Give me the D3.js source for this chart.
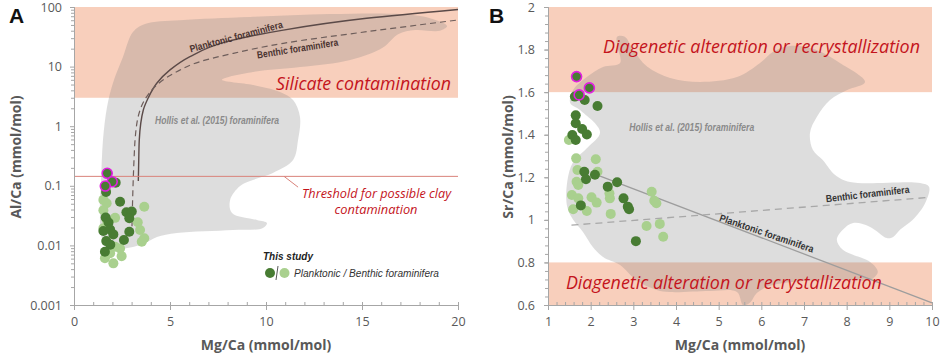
<!DOCTYPE html>
<html>
<head>
<meta charset="utf-8">
<script src="https://cdnjs.cloudflare.com/ajax/libs/d3/7.8.5/d3.min.js"></script>
<style>
  body { margin: 0; background: #fff; }
  text { font-family: "Open Sans", sans-serif; }
</style>
</head>
<body>
<div id="chart"></div>
<script>
// ---- panel A : Al/Ca vs Mg/Ca ----
const aPlanktonic = [[2.17,0.113],[1.67,0.079],[2.40,0.054],[2.73,0.036],[3.01,0.037],[2.88,0.0285],
  [1.65,0.0294],[1.80,0.0242],[1.53,0.0175],[1.88,0.0185],[2.05,0.0153],[1.68,0.0118],[1.89,0.0103],
  [2.88,0.017],[2.60,0.0123],[1.61,0.0078]];
const aFlagged = [[1.73,0.162],[1.99,0.117],[1.63,0.099]];
const aBenthic = [[1.53,0.058],[1.70,0.051],[1.53,0.039],[2.14,0.029],[3.66,0.0446],[3.32,0.0244],
  [3.44,0.0181],[3.66,0.0132],[3.53,0.0115],[1.70,0.0267],[1.61,0.0061],[1.88,0.0074],[2.05,0.0050],
  [2.40,0.0089],[2.48,0.0066],[2.14,0.0095],[1.53,0.0194]];
// mixing curves
const aPlankCurveX = [3.35,3.37,3.40,3.61,3.87,4.31,5.0,6.04,7.95,10.9,15.24,20];
const aPlankCurveY = [0.12,0.25,0.59,1.87,3.0,5.25,8.8,14.7,26.2,41,64.6,91];
const aBenthCurveX = [3.02,3.09,3.15,3.18,3.44,3.78,4.31,5.35,6.56,8.3,10.9,15.24,20];
const aBenthCurveY = [0.021,0.14,0.4,0.59,1.87,3.1,4.9,8.2,12.1,16.7,24.6,38.5,60.5];
// Hollis et al. (2015) envelope
const aHollis = [[3.07,38],[3.70,52],[5.52,60],[9.17,68],[13.33,76],[16.98,76],[18.54,65],[19.43,48],
  [19.06,40],[17.76,41],[16.88,35],[16.09,21],[14.38,12.9],[11.77,9.8],[9.32,8.1],[7.71,6.0],[9.32,4.9],
  [10.73,3.75],[11.41,2.75],[11.77,1.43],[11.67,0.59],[11.41,0.27],[10.36,0.164],[9.32,0.125],[8.65,0.099],
  [8.13,0.058],[8.23,0.035],[9.53,0.0267],[10.05,0.0238],[9.84,0.0196],[8.28,0.0181],[5.36,0.0161],
  [4.32,0.0138],[3.80,0.0114],[3.07,0.0094],[2.24,0.0090],[1.51,0.0123],[1.35,0.039],[1.41,0.125],
  [1.51,0.59],[1.72,2.1],[2.03,5.3],[2.55,14.5]];
const aSilicateBand = [3, 100];
const aClayThreshold = 0.144;
const aTicksX = [0, 5, 10, 15, 20];
const aTicksY = [0.001, 0.01, 0.1, 1, 10, 100];
const aTickLabelsY = ["0.001", "0.01", "0.1", "1", "10", "100"];

// ---- panel B : Sr/Ca vs Mg/Ca ----
const bPlanktonic = [[1.63,1.579],[1.86,1.563],[2.16,1.535],[1.65,1.491],[1.65,1.454],[1.80,1.427],
  [1.91,1.401],[1.57,1.399],[1.65,1.375],[1.85,1.226],[2.10,1.212],[1.89,1.191],[2.40,1.156],[2.62,1.177],
  [2.77,1.101],[1.77,1.068],[2.87,1.062],[2.90,1.050],[3.06,0.900]];
const bFlagged = [[1.67,1.673],[1.97,1.620],[1.73,1.587]];
const bBenthic = [[1.49,1.375],[1.66,1.289],[2.12,1.285],[1.69,1.234],[2.16,1.226],[1.67,1.179],
  [1.71,1.164],[2.44,1.125],[2.45,1.101],[1.56,1.117],[1.71,1.101],[2.02,1.106],[2.14,1.081],[1.59,1.050],
  [1.91,1.042],[2.47,1.028],[3.43,1.132],[3.49,1.090],[3.54,1.078],[3.31,0.971],[3.62,0.981],[3.70,0.921]];
const bPlankLineX = [2.1, 10];
const bPlankLineY = [1.215, 0.61];
const bBenthLineX = [1.55, 9.9];
const bBenthLineY = [0.975, 1.105];
const bHollis = [[2.62,1.86],[2.80,1.86],[2.99,1.80],[3.32,1.72],[3.86,1.667],[4.56,1.648],[5.43,1.671],
  [5.97,1.737],[6.27,1.789],[6.67,1.817],[7.26,1.80],[7.84,1.737],[8.43,1.648],[8.01,1.61],[7.61,1.563],
  [7.30,1.483],[7.14,1.408],[7.21,1.328],[7.44,1.281],[7.73,1.211],[8.08,1.178],[9.72,1.173],[9.93,1.155],
  [9.84,1.079],[9.55,1.0],[9.25,0.953],[9.09,0.92],[8.94,0.915],[8.55,0.967],[8.15,0.985],[7.91,0.953],
  [7.77,0.906],[7.91,0.859],[8.55,0.802],[8.73,0.755],[8.55,0.718],[8.15,0.718],[6.98,0.713],[6.20,0.69],
  [5.90,0.657],[5.73,0.61],[5.57,0.60],[5.43,0.661],[4.80,0.666],[3.86,0.661],[3.55,0.671],[3.09,0.713],
  [2.69,0.788],[2.29,0.826],[2.05,0.873],[1.82,0.943],[1.59,1.0],[1.45,1.061],[1.45,1.178],[1.59,1.272],
  [1.94,1.342],[2.22,1.413],[1.75,1.516],[1.52,1.549],[1.59,1.61],[1.91,1.671],[2.29,1.718],[2.69,1.737],
  [2.62,1.822]];
const bDiageneticBands = [[1.6, 2.0], [0.6, 0.8]];
const bTicksX = [1, 2, 3, 4, 5, 6, 7, 8, 9, 10];
const bTicksY = [0.6, 0.8, 1, 1.2, 1.4, 1.6, 1.8, 2];
const bTickLabelsY = ["0.6", "0.8", "1", "1.2", "1.4", "1.6", "1.8", "2"];

// ---- styling ----
const darkGreen = "#487c33", lightGreen = "#a9d08e", ringColor = "#e31ee3";
const bandColor = "#f8cfbc", blobColor = "#808080", redText = "#c4141c";
const axisColor = "#a6a6a6", labelColor = "#595959";

const svg = d3.select("#chart").append("svg")
  .attr("width", 941).attr("height", 357);

function styleAxis(g) {
  g.select(".domain").attr("stroke", axisColor);
  g.selectAll(".tick line").attr("stroke", axisColor);
  g.selectAll(".tick text").attr("fill", labelColor).style("font-size", "12.5px");
}

function drawPoints(g, pts, x, y, fill, ring) {
  g.append("g").selectAll("circle").data(pts).join("circle")
    .attr("cx", d => x(d[0])).attr("cy", d => y(d[1])).attr("r", 5)
    .attr("fill", fill)
    .attr("stroke", ring || "none").attr("stroke-width", ring ? 1.6 : 0);
}

// ======================= PANEL A =======================
const xA = d3.scaleLinear().domain([0, 20]).range([74, 458]);
const yA = d3.scaleLog().domain([0.001, 100]).range([305, 7]);
const gA = svg.append("g");

gA.append("rect")
  .attr("x", xA(0)).attr("width", xA(20) - xA(0))
  .attr("y", yA(aSilicateBand[1])).attr("height", yA(aSilicateBand[0]) - yA(aSilicateBand[1]))
  .attr("fill", bandColor);

gA.append("path")
  .attr("d", d3.line().x(d => xA(d[0])).y(d => yA(d[1])).curve(d3.curveCatmullRomClosed.alpha(0.5))(aHollis))
  .attr("fill", blobColor).attr("fill-opacity", 0.27);

// mixing curves
const curveLineA = d3.line().x(d => xA(d[0])).y(d => yA(d[1])).curve(d3.curveMonotoneY);
gA.append("path")
  .attr("d", curveLineA(aPlankCurveX.map((v, i) => [v, aPlankCurveY[i]])))
  .attr("fill", "none").attr("stroke", "#5b4a48").attr("stroke-width", 1.4);
gA.append("path")
  .attr("d", curveLineA(aBenthCurveX.map((v, i) => [v, aBenthCurveY[i]])))
  .attr("fill", "none").attr("stroke", "#6e5e5b").attr("stroke-width", 1.2)
  .attr("stroke-dasharray", "6,4");

gA.append("text").text("Planktonic foraminifera")
  .attr("transform", `translate(${xA(8.49)},${yA(27.9)}) rotate(-15)`)
  .attr("text-anchor", "middle").attr("fill", "#4a3330")
  .style("font-family", "Liberation Sans").style("font-weight", "bold").style("font-size", "10px")
  .attr("textLength", 96).attr("lengthAdjust", "spacingAndGlyphs");
gA.append("text").text("Benthic foraminifera")
  .attr("transform", `translate(${xA(11.67)},${yA(17.6)}) rotate(-9)`)
  .attr("text-anchor", "middle").attr("fill", "#4a3330")
  .style("font-family", "Liberation Sans").style("font-weight", "bold").style("font-size", "10px")
  .attr("textLength", 82).attr("lengthAdjust", "spacingAndGlyphs");

gA.append("text").text("Hollis et al. (2015) foraminifera")
  .attr("x", xA(7.45)).attr("y", yA(1.09)).attr("text-anchor", "middle")
  .attr("fill", "#8a8a8a").style("font-family", "Liberation Sans")
  .style("font-weight", "bold").style("font-style", "italic").style("font-size", "10px")
  .attr("textLength", 124).attr("lengthAdjust", "spacingAndGlyphs");

gA.append("text").text("Silicate contamination")
  .attr("x", xA(10.52)).attr("y", yA(4.05))
  .attr("fill", redText).style("font-style", "italic").style("font-size", "18px")
  .attr("textLength", 175).attr("lengthAdjust", "spacingAndGlyphs");

// clay threshold
gA.append("line")
  .attr("x1", xA(0)).attr("x2", xA(20))
  .attr("y1", yA(aClayThreshold)).attr("y2", yA(aClayThreshold))
  .attr("stroke", "#d9827a").attr("stroke-width", 1);
gA.append("line")
  .attr("x1", xA(10.94)).attr("y1", yA(aClayThreshold))
  .attr("x2", xA(11.67)).attr("y2", yA(0.095))
  .attr("stroke", "#d9827a").attr("stroke-width", 1);
gA.append("text").text("Threshold for possible clay")
  .attr("x", xA(11.875)).attr("y", yA(0.0622))
  .attr("fill", redText).style("font-style", "italic").style("font-size", "12.5px")
  .attr("textLength", 149).attr("lengthAdjust", "spacingAndGlyphs");
gA.append("text").text("contamination")
  .attr("x", xA(15.73)).attr("y", yA(0.0335)).attr("text-anchor", "middle")
  .attr("fill", redText).style("font-style", "italic").style("font-size", "12.5px")
  .attr("textLength", 83).attr("lengthAdjust", "spacingAndGlyphs");

// axes A
const minorA = [];
for (let e = -3; e < 2; e++) for (let m = 2; m < 10; m++) minorA.push(m * Math.pow(10, e));
gA.append("g").attr("transform", "translate(74,0)")
  .call(d3.axisLeft(yA).tickValues(minorA).tickSize(3).tickFormat(""))
  .call(styleAxis);
gA.append("g").attr("transform", "translate(74,0)")
  .call(d3.axisLeft(yA).tickValues(aTicksY).tickSize(4).tickPadding(8)
    .tickFormat((d, i) => aTickLabelsY[i]))
  .call(styleAxis);
gA.append("g").attr("transform", "translate(0,305)")
  .call(d3.axisTop(xA).tickValues(d3.range(1, 20)).tickSize(3).tickFormat(""))
  .call(styleAxis);
gA.append("g").attr("transform", "translate(0,305)")
  .call(d3.axisBottom(xA).tickValues(aTicksX).tickSize(5).tickPadding(7))
  .call(styleAxis);

// points A
drawPoints(gA, aBenthic, xA, yA, lightGreen);
drawPoints(gA, aPlanktonic, xA, yA, darkGreen);
drawPoints(gA, aFlagged, xA, yA, darkGreen, ringColor);

// legend A
const lg = gA.append("g");
lg.append("text").text("This study").attr("x", 263).attr("y", 260)
  .attr("fill", "#222").style("font-family", "Liberation Sans")
  .style("font-weight", "bold").style("font-style", "italic").style("font-size", "11.5px")
  .attr("textLength", 50).attr("lengthAdjust", "spacingAndGlyphs");
lg.append("circle").attr("cx", 270).attr("cy", 273).attr("r", 5).attr("fill", darkGreen);
lg.append("circle").attr("cx", 284.5).attr("cy", 273).attr("r", 5).attr("fill", lightGreen);
lg.append("line").attr("x1", 278).attr("y1", 266).attr("x2", 276).attr("y2", 280)
  .attr("stroke", "#595959").attr("stroke-width", 1);
lg.append("text").text("Planktonic / Benthic foraminifera").attr("x", 294).attr("y", 277)
  .attr("fill", "#333").style("font-family", "Liberation Sans")
  .style("font-style", "italic").style("font-size", "11px")
  .attr("textLength", 145).attr("lengthAdjust", "spacingAndGlyphs");

// titles A
svg.append("text").text("Mg/Ca (mmol/mol)").attr("x", 266).attr("y", 350)
  .attr("text-anchor", "middle").attr("fill", labelColor)
  .style("font-weight", "bold").style("font-size", "14px");
svg.append("text").text("Al/Ca (mmol/mol)")
  .attr("transform", "translate(21,157) rotate(-90)")
  .attr("text-anchor", "middle").attr("fill", labelColor)
  .style("font-weight", "bold").style("font-size", "14px");
svg.append("text").text("A").attr("x", 9).attr("y", 23)
  .attr("fill", "#111").style("font-family", "Liberation Sans")
  .style("font-weight", "bold").style("font-size", "21px");

// ======================= PANEL B =======================
const xB = d3.scaleLinear().domain([1, 10]).range([548, 932]);
const yB = d3.scaleLinear().domain([0.6, 2]).range([305, 7]);
const gB = svg.append("g");

gB.selectAll("rect.band").data(bDiageneticBands).join("rect")
  .attr("class", "band")
  .attr("x", xB(1)).attr("width", xB(10) - xB(1))
  .attr("y", d => yB(d[1])).attr("height", d => yB(d[0]) - yB(d[1]))
  .attr("fill", bandColor);

gB.append("path")
  .attr("d", d3.line().x(d => xB(d[0])).y(d => yB(d[1])).curve(d3.curveCatmullRomClosed.alpha(0.5))(bHollis))
  .attr("fill", blobColor).attr("fill-opacity", 0.27);

gB.append("path")
  .attr("d", d3.line()(bPlankLineX.map((v, i) => [xB(v), yB(bPlankLineY[i])])))
  .attr("stroke", "#9d9d9d").attr("stroke-width", 1.3).attr("fill", "none");
gB.append("path")
  .attr("d", d3.line()(bBenthLineX.map((v, i) => [xB(v), yB(bBenthLineY[i])])))
  .attr("stroke", "#a8a8a8").attr("stroke-width", 1.3).attr("fill", "none")
  .attr("stroke-dasharray", "7,5");

const angP = Math.atan2(yB(bPlankLineY[1]) - yB(bPlankLineY[0]), xB(bPlankLineX[1]) - xB(bPlankLineX[0])) * 180 / Math.PI;
gB.append("text").text("Planktonic foraminifera")
  .attr("transform", `translate(${xB(6.1)},${yB(0.921)}) rotate(${angP - 2})`)
  .attr("text-anchor", "middle").attr("fill", "#333")
  .style("font-family", "Liberation Sans").style("font-weight", "bold").style("font-size", "10px")
  .attr("textLength", 99).attr("lengthAdjust", "spacingAndGlyphs");
const angB = Math.atan2(yB(bBenthLineY[1]) - yB(bBenthLineY[0]), xB(bBenthLineX[1]) - xB(bBenthLineX[0])) * 180 / Math.PI;
gB.append("text").text("Benthic foraminifera")
  .attr("transform", `translate(${xB(8.5)},${yB(1.105)}) rotate(${angB - 2})`)
  .attr("text-anchor", "middle").attr("fill", "#333")
  .style("font-family", "Liberation Sans").style("font-weight", "bold").style("font-size", "10px")
  .attr("textLength", 84).attr("lengthAdjust", "spacingAndGlyphs");

gB.append("text").text("Hollis et al. (2015) foraminifera")
  .attr("x", xB(4.37)).attr("y", yB(1.418)).attr("text-anchor", "middle")
  .attr("fill", "#8a8a8a").style("font-family", "Liberation Sans")
  .style("font-weight", "bold").style("font-style", "italic").style("font-size", "10px")
  .attr("textLength", 125).attr("lengthAdjust", "spacingAndGlyphs");

gB.append("text").text("Diagenetic alteration or recrystallization")
  .attr("x", xB(2.29)).attr("y", yB(1.784))
  .attr("fill", redText).style("font-style", "italic").style("font-size", "18px")
  .attr("textLength", 317).attr("lengthAdjust", "spacingAndGlyphs");
gB.append("text").text("Diagenetic alteration or recrystallization")
  .attr("x", xB(1.42)).attr("y", yB(0.675))
  .attr("fill", redText).style("font-style", "italic").style("font-size", "18px")
  .attr("textLength", 316).attr("lengthAdjust", "spacingAndGlyphs");

// axes B
gB.append("g").attr("transform", "translate(548,0)")
  .call(d3.axisLeft(yB).tickValues(d3.range(0, 36).map(i => 0.6 + i * 0.04)).tickSize(3).tickFormat(""))
  .call(styleAxis);
gB.append("g").attr("transform", "translate(548,0)")
  .call(d3.axisLeft(yB).tickValues(bTicksY).tickSize(4).tickPadding(9)
    .tickFormat((d, i) => bTickLabelsY[i]))
  .call(styleAxis);
gB.append("g").attr("transform", "translate(0,305)")
  .call(d3.axisTop(xB).tickValues(d3.range(0, 46).map(i => 1 + i * 0.2)).tickSize(3).tickFormat(""))
  .call(styleAxis);
gB.append("g").attr("transform", "translate(0,305)")
  .call(d3.axisBottom(xB).tickValues(bTicksX).tickSize(5).tickPadding(7))
  .call(styleAxis);

drawPoints(gB, bBenthic, xB, yB, lightGreen);
drawPoints(gB, bPlanktonic, xB, yB, darkGreen);
drawPoints(gB, bFlagged, xB, yB, darkGreen, ringColor);

svg.append("text").text("Mg/Ca (mmol/mol)").attr("x", 740).attr("y", 350)
  .attr("text-anchor", "middle").attr("fill", labelColor)
  .style("font-weight", "bold").style("font-size", "14px");
svg.append("text").text("Sr/Ca (mmol/mol)")
  .attr("transform", "translate(513,157) rotate(-90)")
  .attr("text-anchor", "middle").attr("fill", labelColor)
  .style("font-weight", "bold").style("font-size", "14px");
svg.append("text").text("B").attr("x", 489).attr("y", 23)
  .attr("fill", "#111").style("font-family", "Liberation Sans")
  .style("font-weight", "bold").style("font-size", "21px");
</script>
</body>
</html>
